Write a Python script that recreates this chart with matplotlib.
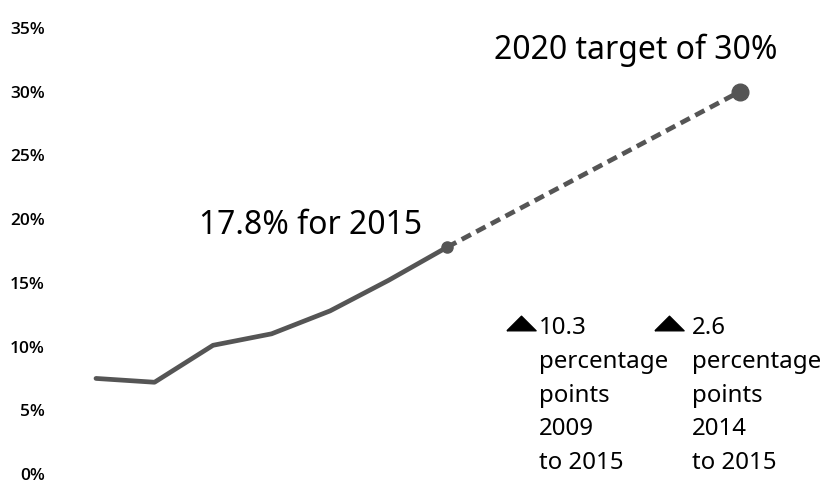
import matplotlib.pyplot as plt
from matplotlib.lines import Line2D
import numpy as np

plt.rcParams['font.family'] = ['Noto Sans', 'DejaVu Sans']

years = [2009, 2010, 2011, 2012, 2013, 2014, 2015]
share = [7.5, 7.2, 10.1, 11.0, 12.8, 15.2, 17.8]
target_year = 2020
target_share = 30.0
yticks = [0, 5, 10, 15, 20, 25, 30, 35]
ytick_labels = [str(v) + '%' for v in yticks]

W, H = 830, 484
fig = plt.figure(figsize=(W / 100, H / 100), dpi=100)
ax = fig.add_axes([60 / W, 10 / H, 740 / W, 446 / H])

col = '#555555'
ax.plot(years, share, color=col, lw=3.4, solid_capstyle='round')
ax.plot([years[-1], target_year], [share[-1], target_share], color=col, lw=3.4,
        dashes=(2.2, 1.3))
ax.plot(years[-1], share[-1], 'o', color=col, ms=8)
ax.plot(target_year, target_share, 'o', color=col, ms=12)

ax.set_xlim(2008.385, 2021.03)
ax.set_ylim(0, 35)
ax.set_yticks(yticks)
ax.set_yticklabels(ytick_labels, fontsize=12.5, fontweight='semibold',
                   family=['Open Sans', 'DejaVu Sans'])
ax.tick_params(axis='y', length=0, pad=11)
ax.set_xticks([])
for s in ax.spines.values():
    s.set_visible(False)


def px(x, y):
    return x / W, 1 - y / H


fig.text(*px(199, 225), '17.8% for 2015', fontsize=23, va='center', ha='left')
fig.text(*px(494, 50), '2020 target of 30%', fontsize=23, va='center', ha='left')

# flat up-pointing triangle
tri = [(-1, -0.5), (1, -0.5), (0, 0.5), (-1, -0.5)]
blocks = [(521, 540, ['10.3', 'percentage', 'points', '2009', 'to 2015']),
          (669, 693, ['2.6', 'percentage', 'points', '2014', 'to 2015'])]
for tx, x0, lines in blocks:
    fig.add_artist(Line2D([tx / W], [1 - 323 / H], transform=fig.transFigure,
                          marker=tri, ms=21, color='black', lw=0))
    for i, line in enumerate(lines):
        fig.text(*px(x0 - 1, 328 + i * 33.8), line, fontsize=17.3, va='center', ha='left')

fig.savefig('out.png', dpi=100)
